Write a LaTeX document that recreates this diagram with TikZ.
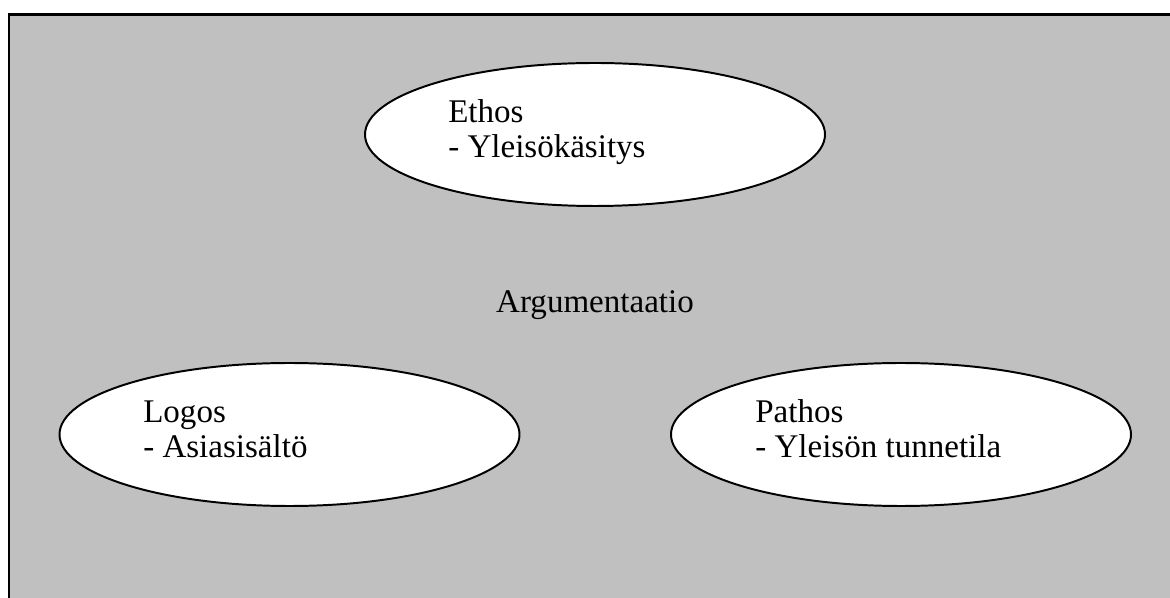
\documentclass[tikz,border=0pt]{standalone}
\usepackage{fontspec}
\setmainfont{Liberation Serif}
\usetikzlibrary{shapes.geometric}
\definecolor{panelgray}{RGB}{192,192,192}
\begin{document}
\begin{tikzpicture}[
    oval/.style={draw, ellipse, fill=white, line width=1.4pt, minimum width=11.5cm, minimum height=3.575cm, inner sep=0pt},
    label text/.style={align=left, inner sep=0pt, anchor=base west, font=\fontsize{23.5}{25.6}\selectfont}
]
    \useasboundingbox (0,0) rectangle (29.25,14.925);
    % Background panel (cut at right and bottom)
    \begin{scope}
        \clip (0,0) rectangle (29.25,14.925);
        \draw[fill=panelgray, line width=1.8pt] (0.225,-1) rectangle (30,14.5625);
    \end{scope}

    % Ethos (Top)
    \node[oval] (ethos) at (14.875,11.5625) {};
    \node[label text] (ethostext) at (11.2,10.975) {Ethos\\- Yleisökäsitys};

    % Centre label
    \node[anchor=base, inner sep=0pt, font=\fontsize{23.5}{25.6}\selectfont] (arg) at (14.875,7.1) {Argumentaatio};

    % Logos (Left)
    \node[oval] (logos) at (7.2375,4.0625) {};
    \node[label text] (logostext) at (3.575,3.475) {Logos\\- Asiasisältö};

    % Pathos (Right)
    \node[oval] (pathos) at (22.525,4.0625) {};
    \node[label text] (pathostext) at (18.875,3.475) {Pathos\\- Yleisön tunnetila};
\end{tikzpicture}
\end{document}
